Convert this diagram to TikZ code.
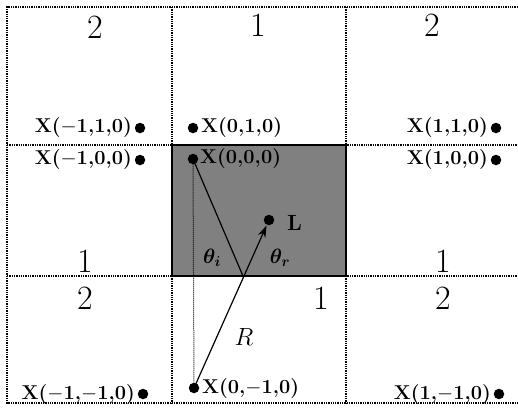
\documentclass[tikz,border=0pt]{standalone}
\usetikzlibrary{arrows.meta}
\begin{document}
\begin{tikzpicture}[x=1pt,y=-1pt,
  grid/.style={densely dotted, line width=1.3pt},
  pt/.style={circle, fill=black, inner sep=0pt, minimum size=10.5pt},
  lab/.style={font=\fontsize{20}{20}\selectfont\bfseries, inner sep=0pt},
  num/.style={font=\fontsize{34}{34}\selectfont, inner sep=0pt},
  ang/.style={font=\fontsize{20}{20}\selectfont\boldmath, inner sep=0pt},
  ray/.style={line width=1.2pt}]
\useasboundingbox (0,0) rectangle (518,408);
% shaded cell
\fill[black!50] (172,145) rectangle (346,276);
% grid
\draw[grid] (518,7) -- (7,7) -- (7,403) -- (518,403);
\draw[grid] (7,145) -- (518,145);
\draw[grid] (7,276) -- (518,276);
\draw[grid] (172,7) -- (172,403);
\draw[grid] (346,7) -- (346,403);
% thick box
\draw[line width=2.6pt] (172,145) rectangle (346,276);
% points
\node[pt] (mp) at (140,128) {};
\node[pt] (zp) at (193,128) {};
\node[pt] (pp) at (496,128) {};
\node[pt] (mz) at (140,160) {};
\node[pt] (zz) at (193,159) {};
\node[pt] (pz) at (496,160) {};
\node[pt] (mm) at (143,394) {};
\node[pt] (zm) at (194,388) {};
\node[pt] (pm) at (499,394) {};
\node[pt] (L) at (269,220) {};
\coordinate (refl) at (243,276);
% labels
\node[lab, anchor=east] (tmp) at (132,128) {X($-$1,1,0)};
\node[lab, anchor=west] (tzp) at (201,128) {X(0,1,0)};
\node[lab, anchor=east] (tpp) at (488,128) {X(1,1,0)};
\node[lab, anchor=east] (tmz) at (132,160) {X($-$1,0,0)};
\node[lab, anchor=west] (tzz) at (200,159) {X(0,0,0)};
\node[lab, anchor=east] (tpz) at (488,160) {X(1,0,0)};
\node[lab, anchor=east] (tmm) at (135,394) {X($-$1,$-$1,0)};
\node[lab, anchor=west] (tzm) at (202,388) {X(0,$-$1,0)};
\node[lab, anchor=east] (tpm) at (491,394) {X(1,$-$1,0)};
\node[lab, anchor=west, font=\fontsize{22}{22}\selectfont\bfseries] (tL) at (287,223) {L};
% numbers
\node[num] (n1) at (95,27) {2};
\node[num] (n2) at (258,25) {1};
\node[num] (n3) at (432,25) {2};
\node[num] (n4) at (85,261) {1};
\node[num] (n5) at (85,298) {2};
\node[num] (n6) at (443,261) {1};
\node[num] (n7) at (443,298) {2};
\node[num] (n8) at (321,298) {1};
% rays
\draw[line width=1pt, densely dotted] (zz) -- (zm);
\draw[ray] (zz.center) -- (refl);
\draw[ray, -{Stealth[length=12pt,width=8pt]}, shorten >=6pt] (zm.center) -- (L.center);
% angles and R
\node[ang] (ti) at (212,258) {$\theta_i$};
\node[ang] (tr) at (280,258) {$\theta_r$};
\node[font=\fontsize{26}{26}\selectfont, inner sep=0pt] (R) at (244,337) {$R$};
\end{tikzpicture}
\end{document}
